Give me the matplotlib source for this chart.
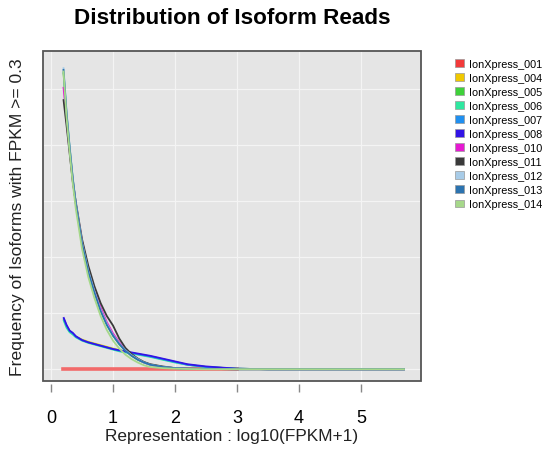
import numpy as np
import matplotlib as mpl
mpl.use("Agg")
import matplotlib.pyplot as plt
from matplotlib.patches import Patch, Rectangle

plt.rcParams['font.family'] = ['Liberation Sans', 'DejaVu Sans']

# shared x grid : log10(FPKM+1)
x_vals = [0.2, 0.25, 0.3, 0.35, 0.4, 0.5, 0.6, 0.7, 0.8, 0.9, 1.0, 1.1, 1.2, 1.3,
          1.4, 1.5, 1.6, 1.8, 2.0, 2.2, 2.5, 3.0, 3.5, 4.0, 5.0, 5.71]

samples = ['IonXpress_001', 'IonXpress_004', 'IonXpress_005', 'IonXpress_006',
           'IonXpress_007', 'IonXpress_008', 'IonXpress_010', 'IonXpress_011',
           'IonXpress_012', 'IonXpress_013', 'IonXpress_014']
colors = ['#f23a3a', '#f0c800', '#3fd13a', '#2ee8a0', '#1f8ff0', '#3214e6',
          '#e619d2', '#3a3a3a', '#a8cce8', '#2b73b0', '#a6d88a']

y_001 = [0.0] * 26
y_004 = [0.90, 0.77, 0.68, 0.63, 0.58, 0.53, 0.49, 0.46, 0.43, 0.40, 0.37, 0.34, 0.31, 0.29,
         0.27, 0.25, 0.23, 0.18, 0.13, 0.08, 0.04, 0.01, 0.0, 0.0, 0.0, 0.0]
y_005 = [5.30, 4.55, 3.95, 3.40, 2.95, 2.25, 1.75, 1.38, 1.05, 0.80, 0.60, 0.45, 0.33, 0.24,
         0.17, 0.12, 0.08, 0.04, 0.02, 0.01, 0.005, 0.0, 0.0, 0.0, 0.0, 0.0]
y_006 = [0.88, 0.74, 0.66, 0.62, 0.57, 0.51, 0.47, 0.44, 0.41, 0.38, 0.35, 0.32, 0.30, 0.28,
         0.26, 0.24, 0.22, 0.17, 0.12, 0.08, 0.04, 0.01, 0.0, 0.0, 0.0, 0.0]
y_007 = [0.91, 0.78, 0.68, 0.64, 0.58, 0.52, 0.48, 0.45, 0.42, 0.39, 0.36, 0.33, 0.31, 0.29,
         0.27, 0.25, 0.23, 0.18, 0.13, 0.08, 0.04, 0.01, 0.0, 0.0, 0.0, 0.0]
y_008 = [0.93, 0.79, 0.69, 0.65, 0.59, 0.52, 0.48, 0.45, 0.42, 0.39, 0.36, 0.34, 0.32, 0.30,
         0.28, 0.26, 0.24, 0.19, 0.14, 0.09, 0.05, 0.01, 0.0, 0.0, 0.0, 0.0]
y_010 = [5.04, 4.45, 3.90, 3.38, 2.95, 2.28, 1.80, 1.42, 1.10, 0.84, 0.64, 0.48, 0.35, 0.25,
         0.18, 0.12, 0.08, 0.04, 0.02, 0.01, 0.005, 0.0, 0.0, 0.0, 0.0, 0.0]
y_011 = [4.82, 4.35, 3.85, 3.35, 2.98, 2.32, 1.85, 1.48, 1.18, 0.95, 0.78, 0.55, 0.38, 0.27,
         0.19, 0.13, 0.09, 0.05, 0.02, 0.01, 0.005, 0.0, 0.0, 0.0, 0.0, 0.0]
y_012 = [5.39, 4.60, 3.98, 3.42, 2.96, 2.26, 1.76, 1.39, 1.06, 0.81, 0.61, 0.46, 0.34, 0.25,
         0.18, 0.12, 0.08, 0.04, 0.02, 0.01, 0.005, 0.0, 0.0, 0.0, 0.0, 0.0]
y_013 = [5.36, 4.58, 3.96, 3.41, 2.95, 2.24, 1.74, 1.37, 1.04, 0.79, 0.60, 0.45, 0.33, 0.24,
         0.17, 0.12, 0.08, 0.04, 0.02, 0.01, 0.005, 0.0, 0.0, 0.0, 0.0, 0.0]
y_014 = [5.33, 4.50, 3.88, 3.32, 2.86, 2.15, 1.65, 1.27, 0.95, 0.70, 0.51, 0.37, 0.26, 0.18,
         0.12, 0.07, 0.04, 0.02, 0.01, 0.005, 0.0, 0.0, 0.0, 0.0, 0.0, 0.0]

series = [y_001, y_004, y_005, y_006, y_007, y_008, y_010, y_011, y_012, y_013, y_014]

fig = plt.figure(figsize=(5.48, 4.56), dpi=100)
ax = fig.add_axes([43/548, 1-382/456, (421-43)/548, (382-52)/456])
ax.set_facecolor('#e5e5e5')

for name, col, ys in list(zip(samples, colors, series))[1:]:
    ax.plot(x_vals, ys, color=col, lw=1.3, solid_capstyle='butt')
# red line drawn thick, underneath the tail of the others
ax.plot(x_vals[:22], y_001[:22], color='#f26a6a', lw=2.6, zorder=1.5)

ax.set_xlim(-0.13, 5.97)
ax.set_ylim(-0.21, 5.68)
ax.set_xticks([0, 1, 2, 3, 4, 5])
ax.set_yticks([0, 1, 2, 3, 4, 5])
ax.grid(True, color='#f4f4f4', lw=0.9)
ax.set_axisbelow(True)
ax.tick_params(axis='y', length=0, labelleft=False)
ax.tick_params(axis='x', length=6, width=1.0, color='#888888', labelsize=13, pad=12)

# panel border drawn as a box, ticks sit a little below it
for s in ax.spines.values():
    s.set_visible(False)
ax.spines['bottom'].set_position(('outward', 2.5))
ax.add_patch(Rectangle((0, 0), 1, 1, transform=ax.transAxes, fill=False,
                       ec='#555555', lw=1.3, clip_on=False, zorder=5))

ax.set_xlabel('Representation : log10(FPKM+1)', fontsize=12.4, color='#222222', labelpad=1)
ax.set_ylabel('Frequency of Isoforms with FPKM >= 0.3', fontsize=12.6, color='#222222')
ax.yaxis.set_label_coords(-0.048, 0.5)
fig.text(232/548, 1-19/456, 'Distribution of Isoform Reads', ha='center', va='center',
         fontsize=16.2, fontweight='bold')

handles = [Patch(facecolor=c, edgecolor='#999999', lw=0.5) for c in colors]
fig.legend(handles, samples, loc='upper left', bbox_to_anchor=(455/548, 1-60/456),
           frameon=False, fontsize=7.8, handlelength=0.8, handleheight=0.7,
           handletextpad=0.5, labelspacing=0.37, borderpad=0, borderaxespad=0)

fig.savefig('out.png', dpi=100)
